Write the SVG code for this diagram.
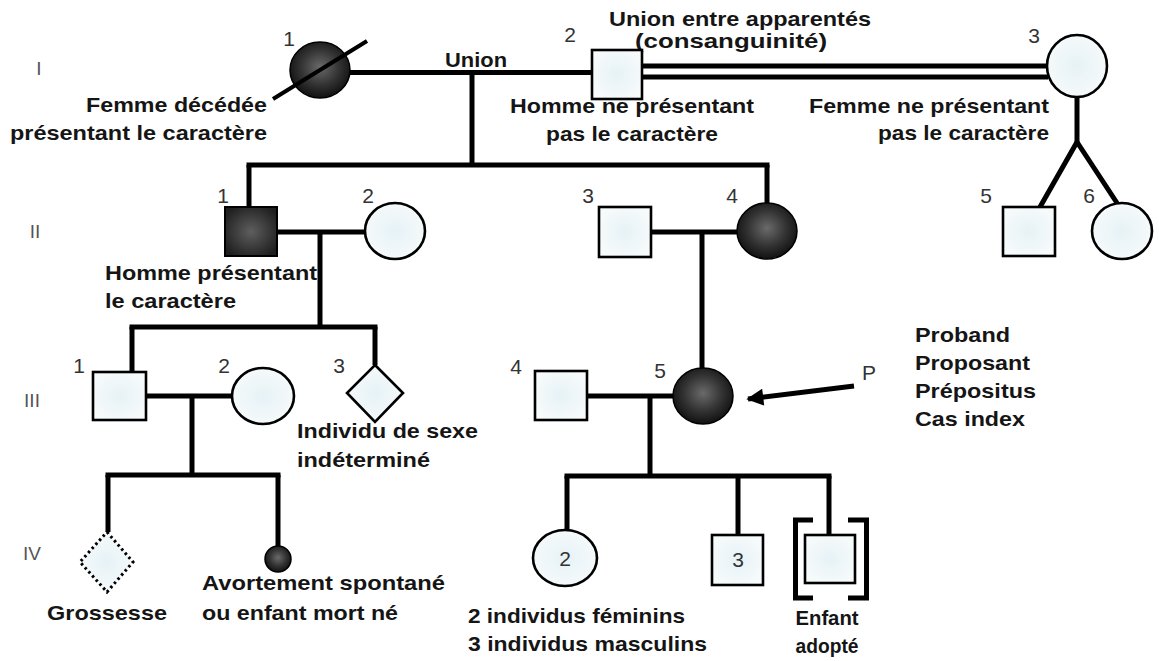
<svg xmlns="http://www.w3.org/2000/svg" width="1159" height="661" viewBox="0 0 1159 661">
<defs>
<radialGradient id="light" cx="50%" cy="50%" r="60%">
<stop offset="0" stop-color="#e6f2f6"/>
<stop offset="1" stop-color="#f8fbfc"/>
</radialGradient>
<radialGradient id="dark" cx="50%" cy="45%" r="58%">
<stop offset="0" stop-color="#6a6a6a"/>
<stop offset="0.55" stop-color="#333"/>
<stop offset="1" stop-color="#0d0d0d"/>
</radialGradient>
<radialGradient id="darksq" cx="50%" cy="50%" r="60%">
<stop offset="0" stop-color="#5e5e5e"/>
<stop offset="1" stop-color="#1e1e1e"/>
</radialGradient>
<marker id="arrow" viewBox="0 0 10 10" refX="9" refY="5" markerWidth="4.6" markerHeight="3.4" orient="auto" markerUnits="strokeWidth">
<path d="M0,0 L10,5 L0,10 z" fill="#000"/>
</marker>
</defs>
<style>
.ln{stroke:#000;stroke-width:5;fill:none;stroke-linecap:butt}
.nl{fill:url(#light);stroke:#000;stroke-width:2.6}
.nd{fill:url(#dark);stroke:#000;stroke-width:1.5}
.ns{fill:url(#darksq);stroke:#000;stroke-width:2}
.lab{font-family:"Liberation Sans",Arial,sans-serif;font-weight:bold;font-size:21px;fill:#151515}
.num{font-family:"Liberation Sans",Arial,sans-serif;font-size:21px;fill:#333;text-anchor:middle}
.gen{font-family:"Liberation Sans",Arial,sans-serif;font-size:19px;fill:#555;text-anchor:middle}
</style>
<rect width="1159" height="661" fill="#fff"/>

<g id="generations">
<text class="gen" x="39" y="75">I</text>
<text class="gen" x="35" y="238">II</text>
<text class="gen" x="32" y="407">III</text>
<text class="gen" x="32" y="560">IV</text>
</g>

<g id="connectors">
<line class="ln" x1="350" y1="72.5" x2="592" y2="72.5"/>
<line class="ln" x1="472" y1="72" x2="472" y2="165"/>
<line class="ln" x1="246.5" y1="165" x2="769.5" y2="165"/>
<line class="ln" x1="249" y1="165" x2="249" y2="207"/>
<line class="ln" x1="767" y1="165" x2="767" y2="203"/>
<line class="ln" x1="642" y1="66" x2="1048" y2="66"/>
<line class="ln" x1="642" y1="77" x2="1048" y2="77"/>
<polyline class="ln" points="1077,97 1077,142"/>
<polyline class="ln" points="1040,207 1077,142 1117,203" stroke-linejoin="round"/>
<line class="ln" x1="277" y1="232" x2="365" y2="232"/>
<line class="ln" x1="320" y1="232" x2="320" y2="327"/>
<line class="ln" x1="651" y1="232" x2="737" y2="232"/>
<line class="ln" x1="702" y1="232" x2="702" y2="368"/>
<line class="ln" x1="129.5" y1="327" x2="377.5" y2="327"/>
<line class="ln" x1="132" y1="327" x2="132" y2="372"/>
<line class="ln" x1="375" y1="327" x2="375" y2="365"/>
<line class="ln" x1="146" y1="396" x2="232" y2="396"/>
<line class="ln" x1="192" y1="396" x2="192" y2="475"/>
<line class="ln" x1="105.5" y1="475" x2="280.5" y2="475"/>
<line class="ln" x1="108" y1="475" x2="108" y2="532"/>
<line class="ln" x1="278" y1="475" x2="278" y2="547"/>
<line class="ln" x1="587" y1="396" x2="673" y2="396"/>
<line class="ln" x1="650" y1="396" x2="650" y2="476"/>
<line class="ln" x1="564.5" y1="476" x2="831.5" y2="476"/>
<line class="ln" x1="567" y1="476" x2="567" y2="530"/>
<line class="ln" x1="738" y1="476" x2="738" y2="535"/>
<line class="ln" x1="829" y1="476" x2="829" y2="535"/>
<line class="ln" x1="854" y1="386" x2="748" y2="399" marker-end="url(#arrow)"/>
</g>

<g id="I-1">
<ellipse class="nd" cx="320" cy="70" rx="30" ry="28"/>
<line x1="273" y1="99" x2="367" y2="41" stroke="#000" stroke-width="4"/>
<text class="num" x="289" y="46">1</text>
<text class="lab" x="267" y="112" text-anchor="end" textLength="181" lengthAdjust="spacingAndGlyphs">Femme décédée</text>
<text class="lab" x="267" y="140" text-anchor="end" textLength="257" lengthAdjust="spacingAndGlyphs">présentant le caractère</text>
</g>
<g id="union-label">
<text class="lab" x="445" y="67" textLength="62" lengthAdjust="spacingAndGlyphs">Union</text>
</g>
<g id="consanguinity-label">
<text class="lab" x="740" y="26" text-anchor="middle" textLength="262" lengthAdjust="spacingAndGlyphs">Union entre apparentés</text>
<text class="lab" x="731" y="48" text-anchor="middle" textLength="192" lengthAdjust="spacingAndGlyphs">(consanguinité)</text>
</g>
<g id="I-2">
<rect class="nl" x="592" y="50" width="50" height="49"/>
<text class="num" x="570" y="42">2</text>
<text class="lab" x="632" y="113" text-anchor="middle" textLength="244" lengthAdjust="spacingAndGlyphs">Homme ne présentant</text>
<text class="lab" x="632" y="141" text-anchor="middle" textLength="172" lengthAdjust="spacingAndGlyphs">pas le caractère</text>
</g>
<g id="I-3">
<ellipse class="nl" cx="1077" cy="66" rx="30" ry="31"/>
<text class="num" x="1034" y="43">3</text>
<text class="lab" x="1049" y="113" text-anchor="end" textLength="240" lengthAdjust="spacingAndGlyphs">Femme ne présentant</text>
<text class="lab" x="1049" y="140" text-anchor="end" textLength="171" lengthAdjust="spacingAndGlyphs">pas le caractère</text>
</g>

<g id="II-1">
<rect class="ns" x="225" y="207" width="52" height="49"/>
<text class="num" x="223" y="203">1</text>
<text class="lab" x="105" y="280" textLength="212" lengthAdjust="spacingAndGlyphs">Homme présentant</text>
<text class="lab" x="105" y="308" textLength="131" lengthAdjust="spacingAndGlyphs">le caractère</text>
</g>
<g id="II-2">
<ellipse class="nl" cx="395" cy="231" rx="30" ry="28"/>
<text class="num" x="368" y="203">2</text>
</g>
<g id="II-3">
<rect class="nl" x="599" y="207" width="52" height="50"/>
<text class="num" x="588" y="203">3</text>
</g>
<g id="II-4">
<ellipse class="nd" cx="767" cy="231" rx="30" ry="28"/>
<text class="num" x="732" y="203">4</text>
</g>
<g id="II-5">
<rect class="nl" x="1003" y="207" width="52" height="49"/>
<text class="num" x="986" y="203">5</text>
</g>
<g id="II-6">
<ellipse class="nl" cx="1122" cy="231" rx="30" ry="28"/>
<text class="num" x="1089" y="203">6</text>
</g>

<g id="III-1">
<rect class="nl" x="93" y="372" width="53" height="48"/>
<text class="num" x="79" y="373">1</text>
</g>
<g id="III-2">
<ellipse class="nl" cx="263" cy="396" rx="31" ry="28"/>
<text class="num" x="224" y="373">2</text>
</g>
<g id="III-3">
<polygon class="nl" points="375,365 403,393 375,422 347,393"/>
<text class="num" x="339" y="373">3</text>
<text class="lab" x="297" y="438" textLength="181" lengthAdjust="spacingAndGlyphs">Individu de sexe</text>
<text class="lab" x="297" y="467" textLength="133" lengthAdjust="spacingAndGlyphs">indéterminé</text>
</g>
<g id="III-4">
<rect class="nl" x="535" y="371" width="52" height="49"/>
<text class="num" x="516" y="374">4</text>
</g>
<g id="III-5">
<ellipse class="nd" cx="703" cy="396" rx="30" ry="28"/>
<text class="num" x="660" y="378">5</text>
</g>
<g id="proband-label">
<text class="num" x="869" y="380" font-size="22">P</text>
<text class="lab" x="915" y="342" textLength="95" lengthAdjust="spacingAndGlyphs">Proband</text>
<text class="lab" x="915" y="370" textLength="115" lengthAdjust="spacingAndGlyphs">Proposant</text>
<text class="lab" x="915" y="398" textLength="121" lengthAdjust="spacingAndGlyphs">Prépositus</text>
<text class="lab" x="915" y="426" textLength="110" lengthAdjust="spacingAndGlyphs">Cas index</text>
</g>

<g id="IV-pregnancy">
<polygon points="107,532 133,562 107,592 80,562" fill="url(#light)" stroke="#000" stroke-width="3" stroke-dasharray="2.5,3"/>
<text class="lab" x="47" y="620" textLength="120" lengthAdjust="spacingAndGlyphs">Grossesse</text>
</g>
<g id="IV-abortion">
<circle class="nd" cx="278" cy="559" r="13"/>
<text class="lab" x="202" y="590" textLength="243" lengthAdjust="spacingAndGlyphs">Avortement spontané</text>
<text class="lab" x="202" y="620" textLength="196" lengthAdjust="spacingAndGlyphs">ou enfant mort né</text>
</g>
<g id="IV-females">
<ellipse class="nl" cx="565" cy="558" rx="32" ry="28"/>
<text class="num" x="565" y="566">2</text>
</g>
<g id="IV-males">
<rect class="nl" x="712" y="535" width="51" height="50"/>
<text class="num" x="738" y="567">3</text>
</g>
<g id="multiples-label">
<text class="lab" x="468" y="623" textLength="217" lengthAdjust="spacingAndGlyphs">2 individus féminins</text>
<text class="lab" x="468" y="651" textLength="239" lengthAdjust="spacingAndGlyphs">3 individus masculins</text>
</g>
<g id="IV-adopted">
<rect class="nl" x="805" y="535" width="50" height="48"/>
<path d="M813,520 H795.5 V598 H813 M848,520 H866.5 V598 H848" fill="none" stroke="#000" stroke-width="5"/>
<text class="lab" x="827" y="625" text-anchor="middle" textLength="63" lengthAdjust="spacingAndGlyphs">Enfant</text>
<text class="lab" x="827" y="653" text-anchor="middle" textLength="63" lengthAdjust="spacingAndGlyphs">adopté</text>
</g>
</svg>
